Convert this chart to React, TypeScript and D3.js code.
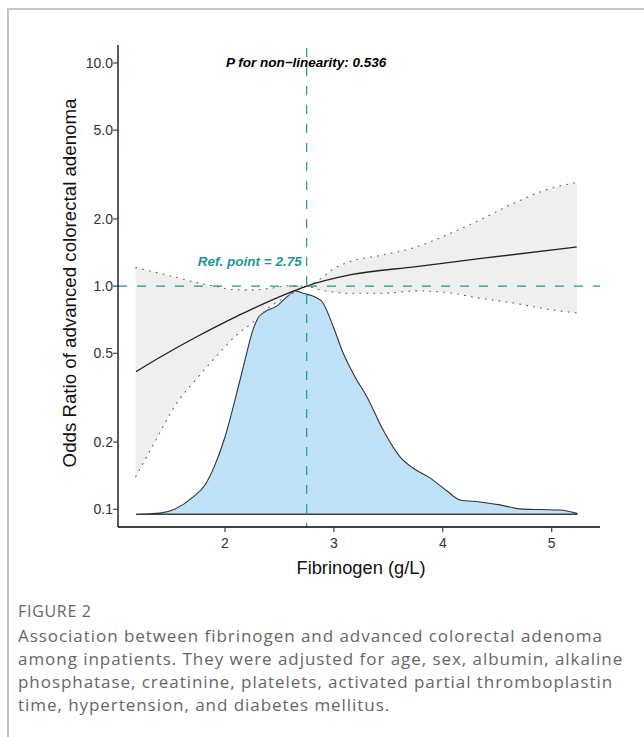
import React from "react";
import * as d3 from "d3";

// fibrinogen values (g/L) and odds ratio of the spline estimate
const fitX = [1.183, 1.403, 1.74, 2.0, 2.352, 2.627, 2.75, 3.145, 3.757, 4.372, 5.23];
const fitOR = [0.414, 0.48, 0.593, 0.69, 0.832, 0.949, 1.0, 1.122, 1.223, 1.334, 1.498];

// 95% confidence band
const ciX = [1.18, 1.35, 1.55, 1.75, 1.92, 2.1, 2.26, 2.41, 2.6, 2.75, 2.84, 3.0, 3.15, 3.45, 3.76, 4.04, 4.34, 4.65, 4.95, 5.23];
const ciUpper = [1.21, 1.158, 1.095, 1.035, 0.996, 0.963, 0.962, 0.978, 1.005, 1.0, 1.047, 1.2, 1.288, 1.38, 1.5, 1.7, 1.98, 2.35, 2.7, 2.92];
const ciLower = [0.14, 0.198, 0.296, 0.39, 0.485, 0.6, 0.69, 0.807, 0.915, 1.0, 0.972, 0.94, 0.929, 0.929, 0.952, 0.936, 0.883, 0.84, 0.79, 0.758];

// fibrinogen distribution (relative density)
const densX = [1.183, 1.403, 1.541, 1.706, 1.816, 1.908, 2.0, 2.092, 2.184, 2.248, 2.303, 2.367, 2.478, 2.569, 2.643, 2.735, 2.826, 2.9, 2.992, 3.084, 3.194, 3.304, 3.451, 3.607, 3.726, 3.882, 4.039, 4.158, 4.342, 4.525, 4.709, 4.893, 5.076, 5.232];
const densY = [0, 0.005, 0.024, 0.077, 0.131, 0.221, 0.346, 0.512, 0.691, 0.812, 0.879, 0.906, 0.933, 0.973, 1.0, 0.987, 0.973, 0.946, 0.843, 0.723, 0.615, 0.525, 0.378, 0.257, 0.207, 0.163, 0.104, 0.064, 0.055, 0.042, 0.024, 0.021, 0.019, 0.004];

const yTicks = [0.1, 0.2, 0.5, 1.0, 2.0, 5.0, 10.0];
const xTicks = [2, 3, 4, 5];
const refPoint = 2.75;
const pText = "P for non\u2212linearity: 0.536";

const captionLines = [
  "Association between fibrinogen and advanced colorectal adenoma",
  "among inpatients. They were adjusted for age, sex, albumin, alkaline",
  "phosphatase, creatinine, platelets, activated partial thromboplastin",
  "time, hypertension, and diabetes mellitus.",
];

const W = 644;
const H = 737;
const panel = { left: 118, right: 600, top: 45, bottom: 527 };
const teal = "#1f9696";
const axisFont = "'Liberation Sans', Arial, sans-serif";
const capFont = "'Open Sans', sans-serif";

export default function App() {
  const x = d3.scaleLinear().domain([1.0175, 5.4435]).range([panel.left, panel.right]);
  const y = d3.scaleLog().domain([0.0833, 12.04]).range([panel.bottom, panel.top]);
  // density drawn in its own scale under the curve
  const yd = d3.scaleLinear().domain([0, 1]).range([y(0.095), y(0.952)]);

  const densArea = d3.area<number>()
    .x((_, i) => x(densX[i]))
    .y0(() => yd(0))
    .y1((d) => yd(d))
    .curve(d3.curveMonotoneX);

  const band = d3.area<number>()
    .x((_, i) => x(ciX[i]))
    .y0((_, i) => y(ciLower[i]))
    .y1((d) => y(d))
    .curve(d3.curveMonotoneX);

  const ciLine = d3.line<number>()
    .x((_, i) => x(ciX[i]))
    .y((d) => y(d))
    .curve(d3.curveMonotoneX);

  const fitLine = d3.line<number>()
    .x((_, i) => x(fitX[i]))
    .y((d) => y(d))
    .curve(d3.curveMonotoneX);

  return (
    <div style={{ position: "absolute", left: 0, top: 0 }}>
      <svg width={W} height={H} style={{ display: "block", background: "#fff" }}>
        {/* figure frame */}
        <rect x={8} y={9} width={W + 20} height={H + 20} fill="none" stroke="#c4c4c4" strokeWidth={2} />

        {/* density */}
        <path d={densArea(densY) || ""} fill="#bfe2f8" stroke="#333" strokeWidth={1.1} />
        <path d={`M${x(densX[0])},${yd(0)}H${x(densX[densX.length - 1])}`} stroke="#333" strokeWidth={1.1} />

        {/* confidence band */}
        <path d={band(ciUpper) || ""} fill="#d6d6d6" fillOpacity={0.38} stroke="none" />
        <path d={ciLine(ciUpper) || ""} fill="none" stroke="#666" strokeWidth={1.1} strokeDasharray="1 6" strokeLinecap="round" />
        <path d={ciLine(ciLower) || ""} fill="none" stroke="#666" strokeWidth={1.1} strokeDasharray="1 6" strokeLinecap="round" />

        {/* estimate */}
        <path d={fitLine(fitOR) || ""} fill="none" stroke="#222" strokeWidth={1.3} />

        {/* reference lines */}
        <line x1={panel.left} x2={panel.right} y1={y(1)} y2={y(1)} stroke={teal} strokeWidth={1.2} strokeDasharray="9 10" />
        <line x1={x(refPoint)} x2={x(refPoint)} y1={panel.top + 3} y2={panel.bottom} stroke={teal} strokeWidth={1.2} strokeDasharray="9 10" />

        {/* axes */}
        <line x1={panel.left} x2={panel.left} y1={panel.top} y2={panel.bottom} stroke="#000" strokeWidth={1.3} />
        <line x1={panel.left} x2={panel.right} y1={panel.bottom} y2={panel.bottom} stroke="#000" strokeWidth={1.3} />
        {yTicks.map((t) => (
          <g key={t}>
            <line x1={panel.left - 5} x2={panel.left} y1={y(t)} y2={y(t)} stroke="#333" strokeWidth={1.1} />
            <text x={panel.left - 5} y={y(t)} dy="0.35em" textAnchor="end" fontFamily={axisFont} fontSize={14} fill="#333">
              {t.toFixed(1)}
            </text>
          </g>
        ))}
        {xTicks.map((t) => (
          <g key={t}>
            <line x1={x(t)} x2={x(t)} y1={panel.bottom} y2={panel.bottom + 5} stroke="#333" strokeWidth={1.1} />
            <text x={x(t)} y={panel.bottom + 21} textAnchor="middle" fontFamily={axisFont} fontSize={14} fill="#333">
              {t}
            </text>
          </g>
        ))}

        {/* axis titles */}
        <text x={(panel.left + panel.right) / 2 + 2} y={574} textAnchor="middle" fontFamily={axisFont} fontSize={18.3} fill="#111">
          Fibrinogen (g/L)
        </text>
        <text transform={`translate(76,${(panel.top + panel.bottom) / 2 - 3}) rotate(-90)`} textAnchor="middle" fontFamily={axisFont} fontSize={18.7} fill="#111">
          Odds Ratio of advanced colorectal adenoma
        </text>

        {/* annotations */}
        <text x={x(refPoint) - 0.5} y={67} textAnchor="middle" fontFamily={axisFont} fontSize={13.5} fontWeight="bold" fontStyle="italic" fill="#000">
          {pText}
        </text>
        <text x={x(refPoint) - 5} y={266} textAnchor="end" fontFamily={axisFont} fontSize={13.5} fontWeight="bold" fontStyle="italic" fill={teal}>
          Ref. point = {refPoint}
        </text>

        {/* caption */}
        <text x={18} y={617} fontFamily={capFont} fontSize={16} letterSpacing={0.7} fill="#666">FIGURE 2</text>
        {captionLines.map((l, i) => (
          <text key={i} x={18} y={642 + i * 23} fontFamily={capFont} fontSize={17} letterSpacing={0.95} fill="#666">
            {l}
          </text>
        ))}
      </svg>
    </div>
  );
}
